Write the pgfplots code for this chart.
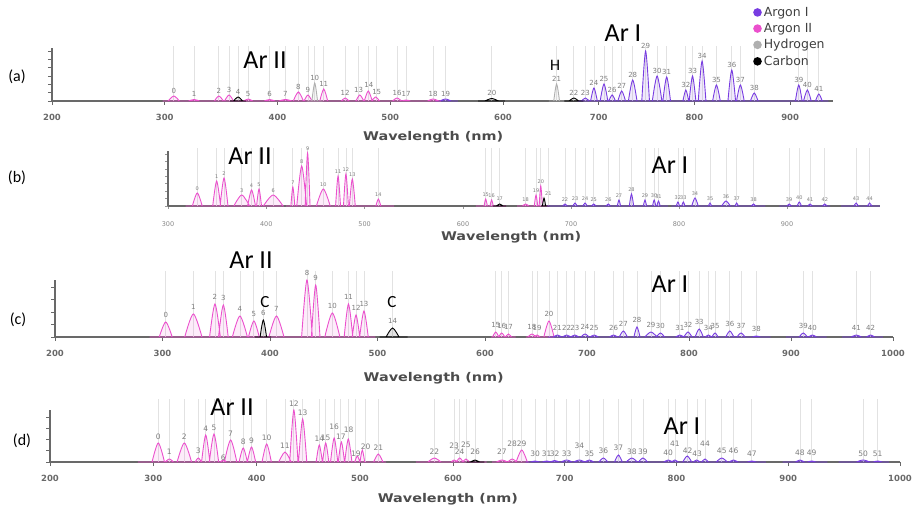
\documentclass[border=0pt]{standalone}
\usepackage{pgfplots}
\usepackage{pgfplotstable}
\pgfplotsset{compat=1.18}
\usepackage{fontspec}
\setmainfont{DejaVu Sans}
\newfontfamily\carlito{Carlito}

\definecolor{argonI}{RGB}{120,60,225}
\definecolor{argonII}{RGB}{235,80,205}
\definecolor{hydro}{RGB}{175,175,175}
\definecolor{carbon}{RGB}{0,0,0}
\definecolor{gridc}{RGB}{226,226,226}
\definecolor{labc}{RGB}{125,125,125}
\definecolor{axc}{RGB}{105,105,105}

\pgfplotsset{
  panel/.style={
    scale only axis, axis lines=left, ymin=0, clip=false,
    axis line style={-, draw=axc, line width=1.1pt},
    tick align=outside, major tick length=4pt,
    tick style={draw=axc, line width=0.9pt},
    yticklabels={}, empty line=jump,
    xticklabel style={font=\bfseries\fontsize{8.5}{9}\selectfont, text=axc, yshift=-5.5pt},
    xlabel={\scalebox{1.2}[1]{Wavelength (nm)}},
    xlabel style={font=\bfseries\fontsize{12}{13}\selectfont, text=black!70, anchor=center},
  },
  pk/.style={smooth, line width=0.9pt, draw=#1, fill=#1, fill opacity=0.11},
  grd/.style={ycomb, draw=gridc, line width=0.8pt, forget plot},
  lab/.style={only marks, mark=none, forget plot, nodes near coords,
    point meta=explicit symbolic,
    nodes near coords style={font=\fontsize{#1}{#1}\selectfont, text=labc, anchor=south, inner sep=0.3pt}},
}

% peak labels: x (nm), label height, label
\pgfplotstableread{
x y l
308 7 0
326 3.5 1
348 7 2
357 8 3
365 6 4
374 4 5
393 3.5 6
407 3.5 7
418.5 11 8
427 8 9
433 20 10
441 14 11
460 5 12
472 8 13
481 12.5 14
488 6 15
506 5 16
514 3.5 17
538 4 18
549 4 19
590 4.5 20
656 19 21
674 5 22
686 5 23
695 15 24
705.5 19 25
714 8 26
724 12 27
735.5 23 28
749 52 29
761 27 30
771 26 31
791 13 32
798 27 33
808 42 34
823 18 35
839 33 36
848 18 37
862.5 10 38
909 18 39
918 13 40
930 9 41
}\labA

\pgfplotstableread{
x y l
329.8 15 0
349.5 27 1
357 30 2
375 13 3
385 18 4
392.6 19 5
407 13 6
427 21 7
436 42 8
442 55 9
458 19 10
473 32 11
481 34 12
487.5 29 13
514 9 14
621 9 15
626.5 8 16
634 5 17
658 4 18
667.6 13 19
672 22 20
679 10 21
694.4 4 22
703.7 5 23
713 5 24
721 4 25
734.5 4 26
744.4 8 27
756 14 28
768.5 8 29
777 8 30
781 7 31
799 6 32
804 6 33
814.8 10 34
828.7 5 35
843.5 7 36
853.4 5 37
869 4 38
902 4 39
911.4 6 40
921.3 4 41
935 4 42
964 5 43
976.5 5 44
}\labB

\pgfplotstableread{
x y l
303 19 0
328.7 27 1
348.8 37 2
356.6 36 3
372 25 4
385 20 5
393.8 21 6
406 25 7
434.4 61 8
442.5 56 9
458 28 10
473 37 11
480 26 12
487.4 30 13
514 13 14
610.5 9 15
616.4 8 16
623 7 17
646 7 18
651 6 19
662.7 20 20
671 6 21
680 6 22
688 6 23
698 7 24
707 6 25
726 6 26
735.6 10 27
749 14 28
762.7 9 29
772 8 30
791 6 31
799 9 32
810 12 33
819 6 34
825.5 8 35
840 10 36
851 8 37
866 5 38
912 8 39
921 6 40
964 6 41
978 6 42
}\labC

\pgfplotstableread{
x y l
304.8 22 0
315.5 7 1
330 22 2
343.5 8 3
350.7 30 4
358.7 31 5
367.7 0.5 6
374.8 25 7
387 17 8
395 18 9
409.7 21 10
427.4 13 11
436 55 12
444.5 46 13
460.6 20 14
466.8 21 15
475 32 16
481.5 21.5 17
489 28.5 18
496 4.5 19
506 11.5 20
519.7 11 21
580 7 22
601 13 23
606 7 24
611.6 14 25
619.7 7 26
643.8 7 27
653 15 28
661.5 15 29
673.4 4.5 30
683.8 4.5 31
691 4.5 32
701.7 4.5 33
713 13 34
722 4.5 35
734.5 8 36
748 11 37
760 7 38
770 7 39
792.6 6 40
798.6 15 41
810 8 42
818.5 5 43
825.5 15 44
840.5 8 45
851 8 46
867.4 5 47
910.5 5.5 48
921 5.5 49
967 5 50
980 5 51
}\labD

\begin{document}
\begin{tikzpicture}
\useasboundingbox (0pt,0pt) rectangle (917pt,511pt);

% ---------------- (a)
\begin{axis}[panel, at={(52pt,410pt)}, anchor=south west,
  width=781.2pt, height=53pt, xmin=200, xmax=945, ymax=53,
  x coord trafo/.code={\pgfmathparse{(#1<600)?(52+(#1-200)*1.1275):(503+(#1-600)*0.957)}},
  x coord inv trafo/.code={\pgfmathparse{(#1<503)?(200+(#1-52)/1.1275):(600+(#1-503)/0.957)}},
  xtick={200,300,400,500,600,700,800,900},
  xticklabels={200,300,400,500,600,700,800,900},
  ytick={0,8.3,16.6,24.9,33.2,41.5,49.8},
  x label style={at={(axis description cs:0.488,0)}, yshift=-36pt},
  legend style={at={(axis description cs:0.8935,1.85)}, anchor=north west, draw=none, fill=none,
    font=\fontsize{12.5}{14}\selectfont, text=black!75, row sep=1.5pt},
  legend cell align=left,
  legend image code/.code={\fill[fill opacity=1, draw=none] (0.12cm,0cm) circle (4.3pt);},
]
\addplot[grd] table[x=x, y expr=55] {\labA};
\addplot[pk=argonI] table {
x y
540 0
560 0

678 0
940 0

544 0
549 2
554 0

682 0
686 3
690 0

691.5 0
695 13
698.5 0

701.5 0
705.5 17
709.5 0

710.5 0
714 6
717.5 0

720 0
724 10
728 0

731 0
735.5 21
740 0

745 0
749 50
753 0

756 0
761 25
766 0

767 0
771 24
775 0

788 0
791 11
794 0

794.5 0
798 25
801.5 0

804 0
808 40
812 0

819 0
823 16
827 0

835 0
839 31
843 0

844 0
848 16
852 0

858.5 0
862.5 8
866.5 0

905.5 0
909 16
912.5 0

914 0
918 11
922 0

926.5 0
930 7
933.5 0
};
\addlegendentry{Argon I}
\addplot[pk=argonII] table {
x y
298 0
545 0

303 0
308 5
313 0

321 0
326 1.5
331 0

344 0
348 5
352 0

353 0
357 6
361 0

370 0
374 2
378 0

388 0
393 1.5
398 0

401 0
407 1.5
413 0

414 0
418.5 9
423 0

423.5 0
427 6
430.5 0

437.5 0
441 12
444.5 0

456.5 0
460 3
463.5 0

469.5 0
473 6
476.5 0

477 0
480.5 10
484 0

483.5 0
487 4
490.5 0

502 0
506 3
510 0

510 0
514 1
518 0

533 0
538 2
543 0
};
\addlegendentry{Argon II}
\addplot[pk=hydro] table {
x y
426 0
440 0

430.5 0
433 18
435.5 0

648 0
664 0

653 0
656 17
659 0
};
\addlegendentry{Hydrogen}
\addplot[pk=carbon] table {
x y
358 0
372 0

361 0
365 4
369 0

578 0
602 0

584 0
590 2.5
596 0

664 0
684 0

669 0
674 3
679 0
};
\addlegendentry{Carbon}
\addplot[lab=7] table[x=x, y=y, meta=l] {\labA};
\end{axis}

% ---------------- (b)
\begin{axis}[panel, at={(168pt,305pt)}, anchor=south west,
  width=711.88pt, height=55pt, xmin=300, xmax=986, ymax=55,
  x coord trafo/.code={\pgfmathparse{(#1<600)?(168+(#1-300)*0.983):(463+(#1-600)*1.08)}},
  x coord inv trafo/.code={\pgfmathparse{(#1<463)?(300+(#1-168)/0.983):(600+(#1-463)/1.08)}},
  xtick={300,400,500,600,700,800,900},
  xticklabels={300,400,500,600,700,800,900},
  xticklabel style={font=\fontsize{6.5}{7}\selectfont, text=axc!80, yshift=-4pt},
  tick style={draw=axc!70, line width=0.6pt},
  major tick length=3pt,
  ytick={0,7.4,14.8,22.2,29.6,37,44.4,51.8},
  x label style={at={(axis description cs:0.482,0)}, yshift=-31pt},
]
\addplot[grd] table[x=x, y expr=58] {\labB};
\addplot[pk=argonII] table {
x y
318 0
418 0

420 0
530 0

612 0
640 0

650 0
680 0

324.8 0
329.8 13
334.8 0

345.5 0
349.5 25
353.5 0

353 0
357 28
361 0

367 0
375 11
383 0

381 0
385 16
389 0

390.1 0
392.6 17
395.1 0

397 0
407 11
417 0

425 0
427 19
429 0

431 0
436 40
441 0

439.5 0
442 53
444.5 0

451 0
458 17
465 0

470.5 0
473 30
475.5 0

478.5 0
481 32
483.5 0

484.5 0
487.5 27
490.5 0

511.5 0
514 7
516.5 0

619.5 0
621 7
622.5 0

625 0
626.5 6
628 0

655 0
658 2
661 0

666 0
667.6 11
669.2 0

670.5 0
672 20
673.5 0
};
\addplot[pk=carbon] table {
x y
628 0
640 0

631 0
634 2
637 0

672 0
680 0

673.5 0
675 8
676.5 0
};
\addplot[pk=argonI] table {
x y
678 0
790 0

793 0
880 0

893 0
940 0

950 0
986 0

692.4 0
694.4 2
696.4 0

701.7 0
703.7 3
705.7 0

711 0
713 3
715 0

719 0
721 2
723 0

732.5 0
734.5 2
736.5 0

742.9 0
744.4 6
745.9 0

754 0
756 12
758 0

767 0
768.5 6
770 0

775.5 0
777 6
778.5 0

779.5 0
781 5
782.5 0

797.5 0
799 4
800.5 0

802.5 0
804 4
805.5 0

811.8 0
814.8 8
817.8 0

827.2 0
828.7 3
830.2 0

839.5 0
843.5 5
847.5 0

851.9 0
853.4 3
854.9 0

867 0
869 2
871 0

900 0
902 2
904 0

909.4 0
911.4 4
913.4 0

919.3 0
921.3 2
923.3 0

933 0
935 2
937 0

962 0
964 3
966 0

974.5 0
976.5 3
978.5 0
};
\addplot[lab=5] table[x=x, y=y, meta=l] {\labB};
\end{axis}

% ---------------- (c)
\begin{axis}[panel, at={(55pt,174pt)}, anchor=south west,
  width=838pt, height=57pt, xmin=200, xmax=1000, ymax=57,
  x coord trafo/.code={\pgfmathparse{(#1<600)?(55+(#1-200)*1.075):(485+(#1-600)*1.02)}},
  x coord inv trafo/.code={\pgfmathparse{(#1<485)?(200+(#1-55)/1.075):(600+(#1-485)/1.02)}},
  xtick={200,300,400,500,600,700,800,900,1000},
  xticklabels={200,300,400,500,600,700,800,900,1000},
  ytick={0,12.5,25,37.5,50},
  x label style={at={(axis description cs:0.452,0)}, yshift=-41pt},
]
\addplot[grd] table[x=x, y expr=66] {\labC};
\addplot[pk=argonII] table {
x y
288 0
498 0

606 0
630 0

640 0
668 0

297 0
303 15
309 0

320.7 0
328.7 23
336.7 0

343.8 0
348.8 33
353.8 0

352.1 0
356.6 32
361.1 0

365 0
372 21
379 0

380 0
385 16
390 0

399 0
406 21
413 0

429.4 0
434.4 57
439.4 0

438.5 0
442.5 52
446.5 0

451 0
458 24
465 0

469 0
473 33
477 0

476.5 0
480 22
483.5 0

483.4 0
487.4 26
491.4 0

607.5 0
610.5 5
613.5 0

613.4 0
616.4 4
619.4 0

620 0
623 3
626 0

642 0
646 3
650 0

648 0
651 2
654 0

657.7 0
662.7 16
667.7 0
};
\addplot[pk=carbon] table {
x y
386 0
401 0

390.8 0
393.8 17
396.8 0

502 0
528 0

508 0
514 9
520 0
};
\addplot[pk=argonI] table {
x y
662 0
880 0

895 0
935 0

950 0
990 0

667 0
671 2
675 0

676 0
680 2
684 0

684 0
688 2
692 0

694 0
698 3
702 0

703 0
707 2
711 0

722 0
726 2
730 0

731.6 0
735.6 6
739.6 0

746 0
749 10
752 0

756.7 0
762.7 5
768.7 0

768 0
772 4
776 0

787 0
791 2
795 0

795 0
799 5
803 0

806 0
810 8
814 0

816 0
819 2
822 0

822.5 0
825.5 4
828.5 0

836 0
840 6
844 0

847 0
851 4
855 0

862 0
866 1
870 0

908 0
912 4
916 0

917 0
921 2
925 0

959 0
964 2
969 0

974 0
978 2
982 0
};
\addplot[lab=7] table[x=x, y=y, meta=l] {\labC};
\end{axis}

% ---------------- (d)
\begin{axis}[panel, at={(50pt,49pt)}, anchor=south west,
  width=850pt, height=52pt, xmin=200, xmax=1000, ymax=52,
  x coord trafo/.code={\pgfmathparse{(#1<500)?(50+(#1-200)*1.0333):((#1<600)?(360+(#1-500)*0.93):(453+(#1-600)*1.1175))}},
  x coord inv trafo/.code={\pgfmathparse{(#1<360)?(200+(#1-50)/1.0333):((#1<453)?(500+(#1-360)/0.93):(600+(#1-453)/1.1175))}},
  xtick={200,300,400,500,600,700,800,900,1000},
  xticklabels={200,300,400,500,600,700,800,900,1000},
  ytick={0,11.2,22.4,33.6,44.8},
  x label style={at={(axis description cs:0.468,0)}, yshift=-37pt},
]
\addplot[grd] table[x=x, y expr=63] {\labD};
\addplot[pk=argonII] table {
x y
285 0
528 0

560 0
630 0

635 0
668 0

298.8 0
304.8 19
310.8 0

311.5 0
315.5 3
319.5 0

323 0
330 19
337 0

340.5 0
343.5 4
346.5 0

346.7 0
350.7 27
354.7 0

354.2 0
358.7 28
363.2 0

364.7 0
367.7 2
370.7 0

368.8 0
374.8 22
380.8 0

383 0
387 14
391 0

391 0
395 15
399 0

405.2 0
409.7 18
414.2 0

421.4 0
427.4 10
433.4 0

432 0
436 52
440 0

440.5 0
444.5 43
448.5 0

457.6 0
460.6 17
463.6 0

463.8 0
466.8 19
469.8 0

471.5 0
475 24
478.5 0

479 0
482 20
485 0

485.2 0
488.7 23
492.2 0

494.9 0
497.4 6
499.9 0

500 0
502.5 12
505 0

514.7 0
519.7 8
524.7 0

573 0
580 4
587 0

598 0
601 2
604 0

603 0
606 4
609 0

608.6 0
611.6 3
614.6 0

638.8 0
643.8 2
648.8 0

649 0
653 3
657 0

656.5 0
661.5 12
666.5 0
};
\addplot[pk=carbon] table {
x y
612 0
628 0

615.7 0
619.7 2
623.7 0
};
\addplot[pk=argonI] table {
x y
665 0
880 0

895 0
935 0

945 0
990 0

669.4 0
673.4 1
677.4 0

679.8 0
683.8 1
687.8 0

687 0
691 1.5
695 0

696.7 0
701.7 2
706.7 0

708 0
713 2
718 0

718 0
722 2
726 0

730.5 0
734.5 4
738.5 0

744.5 0
748 7
751.5 0

755 0
760 4
765 0

766 0
770 4
774 0

788.6 0
792.6 2
796.6 0

795.6 0
798.6 2
801.6 0

805.6 0
809.6 6
813.6 0

815 0
818 2
821 0

822.5 0
825.5 3
828.5 0

835.5 0
840.5 4
845.5 0

847 0
851 2
855 0

863.4 0
867.4 1
871.4 0

906.5 0
910.5 2
914.5 0

917 0
921 1
925 0

961 0
967 2
973 0

976 0
980 1
984 0
};
\addplot[lab=7.5] table[x=x, y=y, meta=l] {\labD};
\end{axis}

% ---------------- annotations
\begin{scope}[every node/.style={font=\carlito\fontsize{26}{26}\selectfont, inner sep=0pt}]
\node at (265pt,451pt) {Ar II};
\node at (623pt,478pt) {Ar I};
\node at (250pt,355pt) {Ar II};
\node at (670pt,346pt) {Ar I};
\node at (251pt,251pt) {Ar II};
\node at (670pt,227pt) {Ar I};
\node at (232pt,104pt) {Ar II};
\node at (682pt,85pt) {Ar I};
\end{scope}
\begin{scope}[every node/.style={font=\carlito\fontsize{16}{16}\selectfont, inner sep=0pt}]
\node at (17pt,434pt) {(a)};
\node at (17pt,333pt) {(b)};
\node at (18pt,191pt) {(c)};
\node at (22pt,70pt) {(d)};
\node at (555pt,446pt) {H};
\node[font=\carlito\fontsize{17}{17}\selectfont] at (265pt,209pt) {C};
\node[font=\carlito\fontsize{17}{17}\selectfont] at (392pt,209pt) {C};
\end{scope}
\end{tikzpicture}
\end{document}
